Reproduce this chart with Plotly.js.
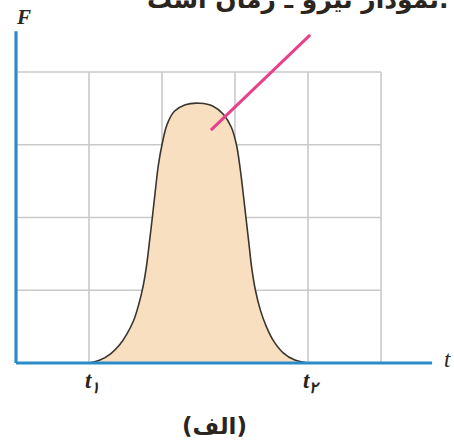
<!DOCTYPE html>
<html>
<head>
<meta charset="utf-8">
<script src="https://cdn.plot.ly/plotly-3.0.1.min.js"></script>
<style>
  html, body { margin: 0; padding: 0; background: #fff; }
  #chart { width: 454px; height: 444px; }
</style>
</head>
<body>
<div id="chart"></div>
<script>
// Force pulse F(t) between t1 and t2 (grid units)
const pulseT = [1.0, 1.15, 1.3, 1.42, 1.52, 1.61, 1.68, 1.74, 1.79, 1.83, 1.87, 1.91, 1.95, 2.0, 2.07, 2.17, 2.32, 2.52,
                2.70, 2.84, 2.95, 3.02, 3.07, 3.11, 3.15, 3.19, 3.23, 3.28, 3.35, 3.43, 3.53, 3.66, 3.82, 4.0];
const pulseF = [0, 0.04, 0.13, 0.25, 0.4, 0.58, 0.8, 1.05, 1.35, 1.68, 2.02, 2.38, 2.72, 3.0, 3.28, 3.46, 3.55, 3.57,
                3.53, 3.42, 3.24, 3.0, 2.68, 2.35, 2.0, 1.65, 1.3, 1.0, 0.72, 0.5, 0.3, 0.14, 0.04, 0];

// Grid cells and axis extents
const gridX = [0, 1, 2, 3, 4, 5];
const gridY = [0, 1, 2, 3, 4];
const axisEndT = 5.7;
const axisEndF = 4.56;

// Tick labels on the time axis
const tickT = [1, 4];
const tickLabels = ['t<sub>۱</sub>', 't<sub>۲</sub>'];

// Pointer line from the pulse towards the caption
const pointerT = [2.67, 4.03];
const pointerF = [3.2, 4.51];

const caption = 'نمودار نیرو ـ زمان است.';
const panelLabel = '(الف)';

const gridColor = '#c9c9c9';
const axisColor = '#2a8bc9';
const inkColor = '#2b2520';

const shapes = [];
const xMax = gridX[gridX.length - 1];
const yMax = gridY[gridY.length - 1];
gridX.slice(1).forEach(gx => shapes.push({
  type: 'line', xref: 'x', yref: 'y', x0: gx, x1: gx, y0: 0, y1: yMax,
  line: {color: gridColor, width: 1.6}, layer: 'below'
}));
gridY.slice(1).forEach(gy => shapes.push({
  type: 'line', xref: 'x', yref: 'y', x0: 0, x1: xMax, y0: gy, y1: gy,
  line: {color: gridColor, width: 1.6}, layer: 'below'
}));
// axes
shapes.push({type: 'line', xref: 'x', yref: 'y', x0: 0, x1: axisEndT, y0: 0, y1: 0,
  line: {color: axisColor, width: 3.2}});
shapes.push({type: 'line', xref: 'x', yref: 'y', x0: 0, x1: 0, y0: 0, y1: axisEndF,
  line: {color: axisColor, width: 3.2}});

const traces = [
  {
    x: pulseT, y: pulseF, type: 'scatter', mode: 'lines',
    line: {color: '#3a3530', width: 1.6, shape: 'spline', smoothing: 1},
    fill: 'tozeroy', fillcolor: '#f8dfc0', hoverinfo: 'skip'
  },
  {
    x: pointerT, y: pointerF, type: 'scatter', mode: 'lines',
    line: {color: '#e8418c', width: 3}, hoverinfo: 'skip'
  }
];

const annotations = [
  {xref: 'x', yref: 'y', x: 0.1, y: axisEndF + 0.2, text: '<b><i>F</i></b>', showarrow: false,
   font: {family: 'Liberation Serif', size: 21, color: inkColor}},
  {xref: 'x', yref: 'y', x: axisEndT + 0.13, y: 0.05, xanchor: 'left', text: '<i>t</i>', showarrow: false,
   font: {family: 'Liberation Serif', size: 23, color: inkColor}},
  {xref: 'x', yref: 'y', x: 2.72, y: -0.87, text: '<b>' + panelLabel + '</b>', showarrow: false,
   font: {family: 'DejaVu Sans', size: 23, color: inkColor}},
  {xref: 'paper', yref: 'paper', x: 1.005, xanchor: 'right', y: 1.013, yanchor: 'middle',
   text: '<b>' + caption + '</b>', showarrow: false,
   font: {family: 'DejaVu Sans', size: 25, color: inkColor}}
];
tickT.forEach((t, i) => annotations.push({
  xref: 'x', yref: 'y', x: t + 0.05, y: -0.26, text: '<b><i>' + tickLabels[i] + '</i></b>', showarrow: false,
  font: {family: 'Liberation Serif', size: 23, color: inkColor}
}));

const layout = {
  width: 454, height: 444,
  margin: {l: 6, r: 6, t: 6, b: 6},
  paper_bgcolor: '#ffffff', plot_bgcolor: '#ffffff',
  showlegend: false,
  xaxis: {range: [-0.137, 5.918], showgrid: false, zeroline: false, showticklabels: false, showline: false, ticks: ''},
  yaxis: {range: [-1.031, 4.907], showgrid: false, zeroline: false, showticklabels: false, showline: false, ticks: ''},
  shapes: shapes,
  annotations: annotations
};

Plotly.newPlot('chart', traces, layout, {staticPlot: true, displayModeBar: false});
</script>
</body>
</html>
